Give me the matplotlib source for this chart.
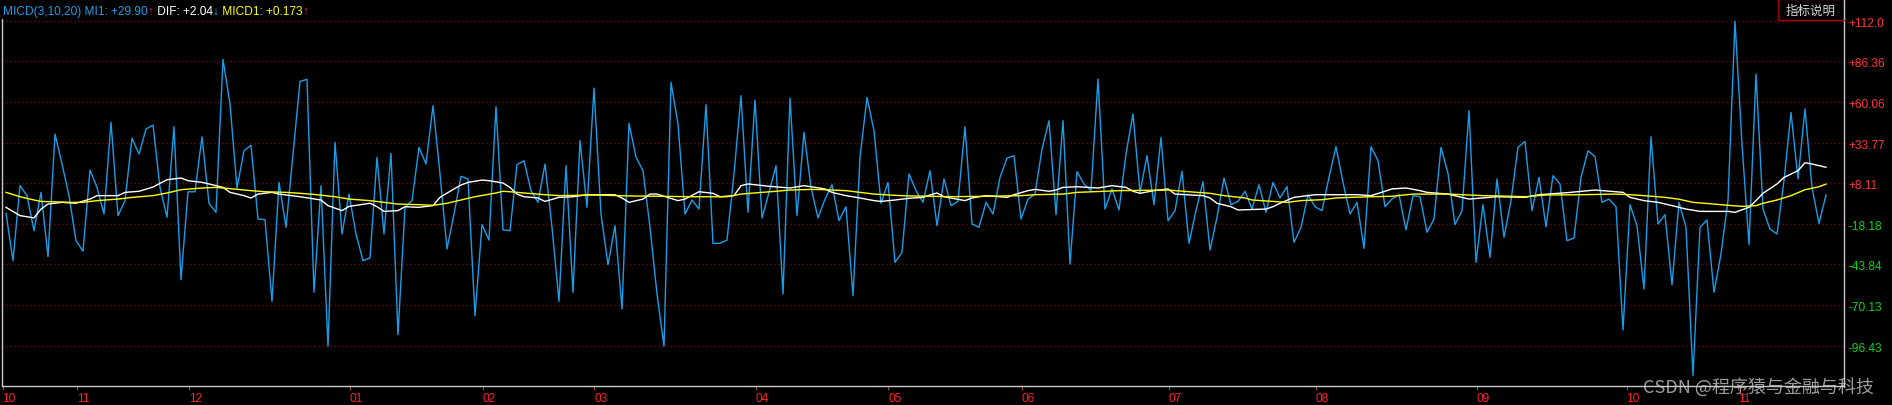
import matplotlib
matplotlib.use('Agg')
import matplotlib.pyplot as plt
from matplotlib.patches import Rectangle
from matplotlib.lines import Line2D

W, H = 1892, 406

# MI1 (blue), one value per bar
mi1 = [
	-11.2, -41.5, 6.6, 0.2, -22.3, 2.3, -38.9, 39.7, 20.5, 0.2,
	-28.7, -35.5, 16.6, 5.5, -11.6, 47.2, -12.6, -3.0, 37.0, 26.9,
	42.9, 45.5, 5.5, -13.7, 44.4, -53.7, 2.7, 2.7, 38.0, -4.7,
	-10.5, 87.6, 59.0, 5.1, 29.0, 32.5, -14.8, -15.2, -67.6, 8.7,
	-20.1, 26.9, 73.5, 74.8, -61.8, 6.6, -96.4, 34.4, -24.4, 1.2,
	-24.4, -41.5, -39.8, 24.8, -24.4, 27.3, -89.0, -7.3, -3.0, 31.2,
	20.5, 57.9, 14.1, -34.0, -11.6, 12.6, 10.9,
	-76.8, -18.4, -28.3, 57.3, -21.8, -22.3, 20.1, 22.6, 3.4, -4.1,
	20.5, -20.1, -67.6, 19.4, -61.8, 35.5, -7.3, 69.2, -11.6, -44.1,
	-19.1, -72.5, 46.6, 24.8, 16.2, -20.1, -62.9, -96.4, 72.9, 46.1,
	-11.6, -2.6, -8.4, 58.5, -30.4, -30.4, -28.3, 14.1, 64.3, -10.5,
	61.5, -14.1, 2.3, 19.4, -62.9, 62.8, -12.6, 40.8, 5.5, -14.1,
	-2.0, 7.2, -15.9, -6.9, -64.0, 24.8, 63.2, 41.9, -4.7, 8.7,
	-42.6, -36.2, 14.1, 3.4, -4.1, 16.2,
	-19.1, 10.9, -6.2, -3.5, 44.4, -18.0, -20.1, -4.1, -11.6, 11.9,
	24.3, 25.8, -14.8, -2.0, 1.2, 30.1, 48.3, -12.0, 48.3, -43.7,
	15.6, 7.7, 3.4, 75.0, -8.4, 4.5, -9.0, 26.9, 52.6, 2.3,
	25.8, -5.6, 37.6, -15.9, -9.4, 15.8, -30.4, -9.4, 9.2, -34.7,
	-13.7, 11.5, -5.6, -3.5, 3.0, -8.4, 7.2, -10.5, 8.7, -1.3,
	6.0, -29.8, -20.1, 0.8, -6.9, -9.4, 11.9, 31.6, 8.7, -11.6,
	-4.1, -33.6, 31.6, 22.6, -6.9, -1.9,
	0.8, -21.8, 0.2, -0.5, -23.3, -14.8, 31.2, 14.5, -18.4, -9.4,
	54.7, -42.6, -5.6, -39.4, 10.9, -26.5, -3.0, 31.2, 35.0, -9.4,
	11.9, -19.7, 13.0, 7.7, -28.7, -27.0, 11.9, 29.0, 25.2, -4.1,
	-2.0, -6.9, -86.0, -5.6, -19.1, -59.7, 38.0, -18.0, -12.0, -56.9,
	-4.1, -20.1, -115.3, -20.1, -15.4, -61.8, -37.2, -3.0, 112.0, 33.3,
	-31.2, 78.2, -8.4, -21.2, -24.4, 9.8, 53.6, 10.9, 55.8, 5.5,
	-17.6, 0.6,
]

# DIF (white), read at these bars
dif_bar = [0, 2, 4, 5, 6, 8, 10, 12, 13, 16, 17, 19, 21, 22, 23, 25, 26, 28, 29, 31,
	32, 34, 35, 36, 38, 39, 42, 45, 46, 48, 49, 52, 53, 54, 56, 57, 59, 61, 62, 64,
	65, 66, 68, 69, 71, 72, 73, 74, 76, 77, 79, 81, 83, 87, 88, 89, 91, 92, 93, 96,
	97, 99, 101, 102, 104, 105, 106, 109, 112, 114, 117, 118, 120, 122, 124, 125, 127, 129, 131, 132,
	133, 134, 137, 138, 140, 143, 144, 146, 147, 149, 150, 151, 153, 156, 158, 160, 161, 162, 164, 166,
	167, 171, 172, 173, 175, 176, 180, 181, 182, 184, 187, 193, 195, 197, 198, 200, 202, 203, 206, 208,
	209, 213, 217, 219, 223, 227, 231, 232, 234, 236, 238, 240, 242, 246, 247, 249, 250, 251, 253, 254,
	256, 257, 258, 260]
dif_val = [-7.3, -12.6, -14.1, -8.4, -5.2, -4.1, -4.7, -2.0, 0.2, 0.2, 2.3, 3.0, 5.7, 8.1, 10.4, 11.5, 9.8, 8.7, 7.7, 5.5,
	2.3, 0.2, -1.3, 1.2, 2.3, 1.2, -0.5, -2.6, -6.2, -9.4, -6.7, -4.7, -6.9, -9.9, -9.4, -6.9, -7.3, -6.2, -0.9, 4.5,
	7.0, 8.7, 10.2, 9.8, 8.3, 5.5, 1.2, -0.5, -1.3, -3.5, -0.9, -0.5, 0.8, 0.8, -1.3, -4.1, -2.0, 1.2, 1.2, -3.0,
	-2.0, 2.7, 1.7, -0.5, 0.2, 6.6, 7.7, 6.2, 5.1, 6.6, 4.5, 2.3, 0.2, -1.3, -3.0, -3.5, -2.6, -1.5, -0.9, 0.6,
	1.9, -0.5, -3.0, -1.3, 0.2, -0.9, 0.8, 3.4, 4.2, 3.0, 3.8, 5.5, 5.9, 5.1, 6.6, 5.5, 3.0, 1.7, 3.4, 4.5,
	1.2, 0.2, -1.3, -4.7, -6.9, -9.0, -8.4, -6.9, -4.7, -0.9, 0.8, 0.8, 0.2, 3.0, 4.5, 5.1, 3.4, 2.3, 1.2, -0.9,
	-2.0, -0.5, -0.9, 0.8, 2.1, 3.8, 2.3, -0.9, -3.0, -4.1, -6.2, -8.4, -9.9, -9.9, -10.5, -7.3, -3.0, 1.7, 7.7, 11.9,
	16.2, 21.3, 20.5, 18.4]

# MICD1 (yellow), read at these bars
micd_bar = [0, 2, 4, 5, 9, 11, 13, 16, 18, 21, 23, 25, 28, 30, 32, 35, 37, 40, 42, 44,
	47, 49, 52, 54, 56, 59, 61, 63, 65, 66, 67, 70, 71, 72, 74, 77, 79, 84, 89, 93,
	98, 103, 105, 108, 110, 112, 115, 117, 120, 122, 124, 127, 129, 132, 135, 140, 145, 147, 151, 153,
	157, 159, 166, 169, 172, 174, 177, 178, 181, 183, 185, 188, 190, 192, 195, 198, 201, 206, 211, 215,
	217, 220, 225, 230, 232, 234, 237, 239, 241, 244, 246, 248, 250, 251, 253, 255, 257, 259, 260]
micd_val = [2.3, -0.5, -2.6, -3.5, -4.1, -4.1, -3.0, -2.0, -0.9, 0.2, 1.9, 4.0, 5.1, 5.5, 4.7, 3.4, 2.7, 2.3, 1.7, 1.0,
	-0.5, -2.0, -3.0, -4.1, -5.2, -5.6, -6.0, -4.7, -2.6, -1.5, -0.5, 1.9, 3.0, 2.7, 1.9, 0.8, 0.2, 0.6, 0.0, -0.2,
	-0.5, -0.5, 1.2, 2.3, 3.0, 3.8, 4.2, 4.0, 3.4, 2.3, 1.2, 0.4, 0.0, -0.2, -0.5, -0.2, 0.2, 0.8, 1.2, 2.3,
	3.0, 3.4, 3.8, 2.7, 1.7, 0.2, -1.3, -2.6, -3.5, -4.1, -3.0, -2.4, -1.3, -0.9, -0.5, -0.2, 1.2, 1.2, 0.2, -0.2,
	-0.5, 0.6, 0.8, 1.2, 0.8, 0.2, -0.9, -2.1, -4.1, -5.2, -6.0, -6.7, -6.2, -4.7, -2.6, 0.2, 4.0, 5.9, 7.6]

y_ticks = [112.0, 86.36, 60.06, 33.77, 8.11, -18.18, -43.84, -70.13, -96.43]
y_labels = ['+112.0', '+86.36', '+60.06', '+33.77', '+8.11', '-18.18', '-43.84', '-70.13', '-96.43']
month_pos = [-0.5, 10.1, 26.1, 49.1, 68.1, 84.0, 107.1, 126.0, 145.1, 166.1, 187.1, 210.1, 231.5, 247.4]
month_labels = ['10', '11', '12', '01', '02', '03', '04', '05', '06', '07', '08', '09', '10', '11']

BLUE = '#1a9de8'
GRID = '#9a0000'
BORDER = '#c8c8c8'


def main():
	plt.rcParams['font.family'] = ['Liberation Sans', 'DejaVu Sans']
	fig = plt.figure(figsize=(W / 100, H / 100), dpi=100, facecolor='black')
	ax = fig.add_axes([2 / W, 1 - 387 / H, 1842 / W, 367 / H])
	ax.set_facecolor('black')

	x = list(range(len(mi1)))
	ax.plot(x, mi1, color=BLUE, lw=1.0, zorder=3)
	ax.plot(dif_bar, dif_val, color='white', lw=1.0, zorder=4)
	ax.plot(micd_bar, micd_val, color='#ffff00', lw=1.0, zorder=5)

	ax.set_xlim(-4 / 7, 1838 / 7)
	ax.set_ylim(-121.9, 113.5)

	# dotted horizontal grid
	for v in y_ticks:
		ax.axhline(v, color=GRID, lw=0.9, ls=(0, (1, 2.2)), zorder=1)

	ax.yaxis.tick_right()
	ax.set_yticks(y_ticks)
	ax.set_yticklabels(y_labels)
	ax.tick_params(axis='y', length=0, pad=3, labelsize=8.6)
	for lab, v in zip(ax.get_yticklabels(), y_ticks):
		lab.set_color('#ff3434' if v > 0 else '#10d010')

	ax.set_xticks(month_pos)
	ax.set_xticklabels(month_labels)
	ax.tick_params(axis='x', length=3, width=0.8, color='#a04040', pad=1,
				   labelsize=8.6, labelcolor='#ff2020')
	for lab in ax.get_xticklabels():
		lab.set_ha('left')

	for side in ['left', 'right', 'bottom']:
		ax.spines[side].set_color(BORDER)
		ax.spines[side].set_linewidth(1.0)
	ax.spines['top'].set_visible(False)

	# right border continues to top of figure
	fig.add_artist(Line2D([1844 / W, 1844 / W], [1 - 20 / H, 1.0], color=BORDER, lw=1.0))

	# button top right
	fig.add_artist(Rectangle((1778 / W, 1 - 21 / H), 66 / W, 21 / H, transform=fig.transFigure,
							 fill=False, edgecolor='#a00000', lw=1.0))
	fig.text(1811 / W, 1 - 11 / H, '指标说明', color='#d8d8d8', fontsize=9,
			 family=['Noto Sans CJK SC', 'DejaVu Sans'], ha='center', va='center')

	# legend line at top left
	fig.canvas.draw()
	r = fig.canvas.get_renderer()
	parts = [('MICD(3,10,20) MI1: +29.90', BLUE), ('↑', '#ff2020'), (' DIF: +2.04', 'white'),
			 ('↓', '#10b8f0'), (' MICD1: +0.173', '#ffff00'), ('↑', '#ff2020')]
	px = 3
	for s, c in parts:
		t = fig.text(px / W, 1 - 12 / H, s, color=c, fontsize=8.6, ha='left', va='center')
		bb = t.get_window_extent(r)
		px = bb.x1

	# watermark
	fig.text(1874 / W, 1 - 387 / H, 'CSDN @程序猿与金融与科技', color='#d0d0d0', alpha=0.75,
			 fontsize=13, family=['Noto Sans CJK SC', 'DejaVu Sans'], ha='right', va='center', zorder=10)

	fig.savefig('out.png', dpi=100, facecolor='black')


if __name__ == '__main__':
	main()
